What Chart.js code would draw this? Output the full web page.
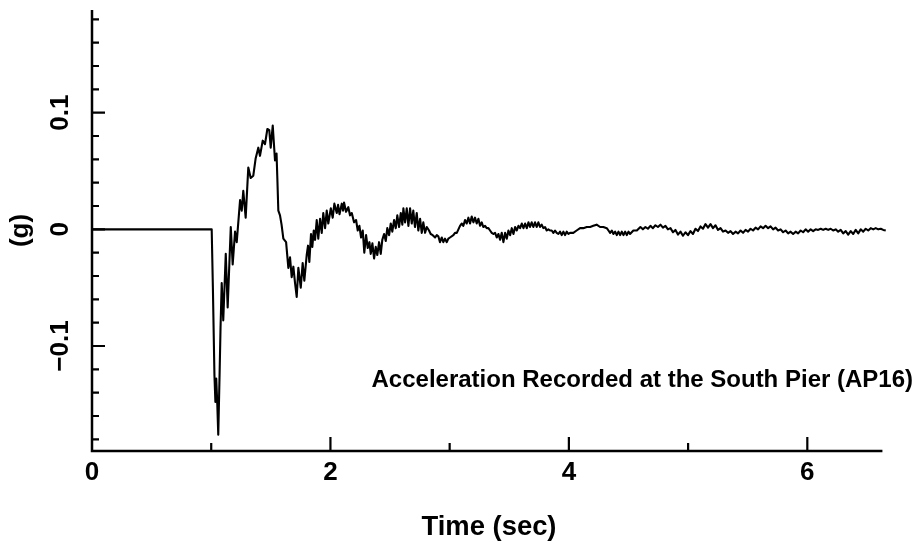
<!DOCTYPE html>
<html>
<head>
<meta charset="utf-8">
<script src="https://cdn.jsdelivr.net/npm/chart.js@4/dist/chart.umd.min.js"></script>
<style>
html,body{margin:0;padding:0;background:#fff;}
#wrap{width:921px;height:548px;}
</style>
</head>
<body>
<div id="wrap"><canvas id="c" width="921" height="548"></canvas></div>
<script>
// ---- data (time in seconds, acceleration in g) ----
const timeA = [0.000,1.004,1.014,1.027,1.035,1.042,1.051,1.059,1.070,1.078,1.088,1.101,1.122,1.138,1.164,1.180,1.200,1.214,1.242,1.256,1.269,1.289,1.311,1.331,1.353,1.373,1.395,1.409,1.432,1.451,1.471,1.487,1.499,1.516,1.535,1.548,1.554,1.563,1.577,1.590,1.605];
const accelA = [0,0,-0.05,-0.125,-0.148,-0.128,-0.150,-0.176,-0.125,-0.085,-0.046,-0.078,-0.021,-0.067,0.002,-0.030,-0.002,-0.011,0.025,0.016,0.033,0.010,0.053,0.044,0.046,0.061,0.070,0.063,0.076,0.073,0.086,0.085,0.070,0.089,0.059,0.065,0.046,0.016,0.012,0.004,-0.008];

const timeB = [1.628,1.647,1.661,1.675,1.689,1.703,1.717,1.731,1.751,1.767,1.781,1.801,1.812,1.823,1.837,1.848,1.860,1.871,1.885,1.898,1.913,1.927,1.940,1.955,1.969,1.982,2.003,2.019,2.033,2.053,2.064,2.076,2.095,2.106,2.114,2.131,2.150,2.164,2.179,2.198,2.215,2.229,2.243,2.257,2.271,2.284,2.299,2.313,2.327,2.338,2.352,2.366,2.380,2.393,2.408,2.422,2.435,2.450,2.464,2.477,2.492,2.506,2.519,2.534,2.548,2.561,2.576,2.590,2.603,2.612,2.626,2.640,2.654,2.668,2.682,2.695,2.709,2.724,2.737,2.752,2.766,2.779,2.794,2.808,2.827,2.841,2.858,2.878,2.892,2.905,2.919,2.934,2.947,2.961,2.976,2.989,3.003];
const accelB = [-0.011,-0.033,-0.024,-0.041,-0.032,-0.046,-0.058,-0.033,-0.050,-0.029,-0.044,-0.022,-0.014,-0.028,-0.004,-0.015,-0.001,-0.009,0.008,-0.008,0.009,-0.003,0.014,0.001,0.016,0.005,0.018,0.010,0.022,0.014,0.021,0.013,0.022,0.016,0.023,0.015,0.019,0.012,0.014,0.006,0.008,-0.001,0.003,-0.007,-0.001,-0.020,-0.005,-0.016,-0.011,-0.021,-0.012,-0.025,-0.015,-0.022,-0.011,-0.021,-0.009,-0.004,-0.010,0.001,-0.005,0.005,-0.002,0.008,0.001,0.012,0.002,0.014,0.004,0.018,0.006,0.018,0.003,0.018,0.005,0.016,0.002,0.014,-0.001,0.009,-0.003,0.006,-0.003,0.002,-0.001,-0.004,-0.005,-0.007,-0.005,-0.006,-0.011,-0.007,-0.011,-0.008,-0.011,-0.008,-0.007];

const timeC = [3.031,3.045,3.060,3.087,3.102,3.115,3.129,3.143,3.157,3.171,3.185,3.199,3.213,3.227,3.241,3.255,3.269,3.282,3.297,3.311,3.325,3.339,3.353,3.367,3.381,3.395,3.409,3.423,3.437,3.451,3.465,3.479,3.493,3.507,3.521,3.535,3.549,3.563,3.577,3.591,3.605,3.619,3.633,3.647,3.661,3.674,3.688,3.702,3.716,3.730,3.744,3.758,3.772,3.786,3.800,3.814,3.828,3.842,3.856,3.870,3.884,3.898,3.912,3.926,3.940,3.954,3.968,3.982,3.996,4.010,4.037,4.065,4.094,4.121,4.150,4.178,4.205,4.233,4.262,4.289,4.318,4.332,4.346,4.360,4.374,4.388,4.402,4.416,4.430,4.444,4.458,4.472,4.486,4.500,4.513,4.541,4.570];
const accelC = [-0.005,-0.003,-0.003,0.003,0.005,0.003,0.008,0.005,0.010,0.005,0.011,0.006,0.010,0.005,0.009,0.003,0.006,0.002,0.003,0.001,0.001,-0.001,-0.003,-0.004,-0.003,-0.007,-0.004,-0.009,-0.003,-0.011,-0.003,-0.008,-0.001,-0.005,0.001,-0.004,0.002,-0.001,0.003,0.001,0.005,0.001,0.005,0.001,0.006,0.002,0.006,0.002,0.006,0.002,0.006,0.002,0.004,0.001,0.002,-0.001,0.000,-0.001,-0.001,-0.003,-0.001,-0.003,-0.004,-0.002,-0.005,-0.002,-0.005,-0.002,-0.004,-0.003,-0.003,-0.001,0.001,0.001,0.002,0.002,0.003,0.004,0.002,0.002,0.001,-0.001,-0.003,-0.001,-0.004,-0.002,-0.005,-0.002,-0.005,-0.002,-0.005,-0.002,-0.005,-0.002,-0.004,-0.001,-0.001];

const timeD = [4.600,4.621,4.642,4.663,4.684,4.705,4.726,4.747,4.768,4.789,4.810,4.831,4.852,4.873,4.894,4.915,4.936,4.957,4.978,4.999,5.020,5.041,5.062,5.083,5.104,5.125,5.146,5.167,5.188,5.209,5.230,5.251,5.272,5.293,5.314,5.335,5.356,5.377,5.398,5.419,5.440,5.461,5.482,5.503,5.524,5.545,5.566,5.587,5.608,5.629,5.650,5.671,5.692,5.713,5.734,5.755,5.776,5.797,5.818,5.839,5.860,5.881,5.902,5.923,5.944,5.965,5.986,6.007,6.028,6.049,6.070,6.091,6.112,6.133,6.154,6.175,6.196,6.217,6.238,6.259,6.280,6.301,6.322,6.343,6.364,6.385,6.406,6.427,6.448,6.469,6.490,6.511,6.532,6.553,6.574,6.595,6.616,6.637,6.658];
const accelD = [0.002,0.000,0.002,0.0005,0.003,0.001,0.0035,0.002,0.004,0.0015,0.003,0.000,0.001,-0.0025,-0.0005,-0.0045,-0.002,-0.0055,-0.0025,-0.005,-0.0015,-0.004,0.0005,-0.0015,0.0025,0.0005,0.0045,0.0015,0.0045,0.001,0.0035,-0.0005,0.001,-0.002,-0.001,-0.003,-0.0015,-0.004,-0.002,-0.0035,-0.001,-0.003,-0.0005,-0.002,0.0005,-0.001,0.0015,0.000,0.0025,0.001,0.003,0.001,0.0025,0.000,0.0015,-0.001,0.000,-0.0025,-0.001,-0.0035,-0.002,-0.004,-0.002,-0.0035,-0.001,-0.0025,0.000,-0.002,0.000,-0.0015,0.000,-0.0005,0.0005,-0.0005,0.0005,-0.0005,0.0005,-0.001,0.000,-0.002,-0.0005,-0.0035,-0.0015,-0.0045,-0.0015,-0.004,-0.0005,-0.0035,0.000,-0.002,0.0005,-0.001,0.001,0.000,0.001,0.000,0.0005,-0.0005,-0.001];

// ---- axes / ticks ----
const xMajorTicks = [0, 2, 4, 6];
const xTickLabels = ['0', '2', '4', '6'];
const xMinorTicks = [1, 3, 5];
const yMajorTicks = [-0.1, 0, 0.1];
const yTickLabels = ['\u22120.1', '0', '0.1'];
const yMinorTicks = [-0.18,-0.16,-0.14,-0.12,-0.08,-0.06,-0.04,-0.02,0.02,0.04,0.06,0.08,0.12,0.14,0.16,0.18];
const xTitle = 'Time (sec)';
const yTitle = '(g)';
const noteText = 'Acceleration Recorded at the South Pier (AP16)';

const allTime = [].concat(timeA, timeB, timeC, timeD);
const allAccel = [].concat(accelA, accelB, accelC, accelD);
const points = allTime.map((t, i) => ({x: t, y: allAccel[i]}));

const FONT = '"Liberation Sans", Arial, sans-serif';

function fitFont(ctx, text, targetW, weight) {
  ctx.font = weight + ' 20px ' + FONT;
  const w = ctx.measureText(text).width;
  return 20 * targetW / w;
}

const axesPlugin = {
  id: 'axesPlugin',
  afterDraw(chart) {
    const ctx = chart.ctx;
    const xs = chart.scales.x, ys = chart.scales.y;
    const a = chart.chartArea;
    ctx.save();
    ctx.strokeStyle = '#000';
    ctx.fillStyle = '#000';
    ctx.lineCap = 'butt';
    // axis lines
    ctx.lineWidth = 2.5;
    ctx.beginPath();
    ctx.moveTo(a.left, a.top);
    ctx.lineTo(a.left, a.bottom);
    ctx.lineTo(xs.getPixelForValue(6.63), a.bottom);
    ctx.stroke();
    // ticks (pointing inward)
    ctx.lineWidth = 2.2;
    ctx.beginPath();
    yMinorTicks.forEach(v => { const p = ys.getPixelForValue(v); ctx.moveTo(a.left, p); ctx.lineTo(a.left + 7, p); });
    yMajorTicks.forEach(v => { const p = ys.getPixelForValue(v); ctx.moveTo(a.left, p); ctx.lineTo(a.left + 13, p); });
    xMinorTicks.forEach(v => { const p = xs.getPixelForValue(v); ctx.moveTo(p, a.bottom); ctx.lineTo(p, a.bottom - 8); });
    xMajorTicks.forEach(v => { if (v === 0) return; const p = xs.getPixelForValue(v); ctx.moveTo(p, a.bottom); ctx.lineTo(p, a.bottom - 14); });
    ctx.stroke();
    // x tick labels
    ctx.font = 'bold 26px ' + FONT;
    ctx.textAlign = 'center';
    ctx.textBaseline = 'middle';
    xMajorTicks.forEach((v, i) => { ctx.fillText(xTickLabels[i], xs.getPixelForValue(v), a.bottom + 22); });
    // y tick labels (rotated)
    yMajorTicks.forEach((v, i) => {
      ctx.save();
      ctx.translate(a.left - 31, ys.getPixelForValue(v));
      ctx.rotate(-Math.PI / 2);
      ctx.fillText(yTickLabels[i], 0, 0);
      ctx.restore();
    });
    // y title
    ctx.save();
    ctx.translate(21, (a.top + a.bottom) / 2);
    ctx.rotate(-Math.PI / 2);
    ctx.font = 'bold 26px ' + FONT;
    ctx.fillText(yTitle, 0, 0);
    ctx.restore();
    // x title
    const fx = fitFont(ctx, xTitle, 135, 'bold');
    ctx.font = 'bold ' + fx.toFixed(1) + 'px ' + FONT;
    ctx.fillText(xTitle, (a.left + a.right) / 2, 527);
    // note
    const fn = fitFont(ctx, noteText, 541, 'bold');
    ctx.font = 'bold ' + fn.toFixed(1) + 'px ' + FONT;
    ctx.textAlign = 'right';
    ctx.fillText(noteText, 913, 380);
    ctx.restore();
  }
};

new Chart(document.getElementById('c'), {
  type: 'line',
  data: {
    datasets: [{
      data: points,
      borderColor: '#000',
      borderWidth: 2.1,
      pointRadius: 0,
      tension: 0,
      fill: false,
      borderJoinStyle: 'round',
      clip: false
    }]
  },
  options: {
    responsive: false,
    devicePixelRatio: 1,
    animation: false,
    parsing: true,
    layout: { padding: { left: 92, right: 35, top: 10, bottom: 97 } },
    plugins: { legend: { display: false }, tooltip: { enabled: false } },
    scales: {
      x: { type: 'linear', min: 0, max: 6.66, display: false },
      y: { type: 'linear', min: -0.19, max: 0.188, display: false }
    }
  },
  plugins: [axesPlugin]
});
</script>
</body>
</html>
